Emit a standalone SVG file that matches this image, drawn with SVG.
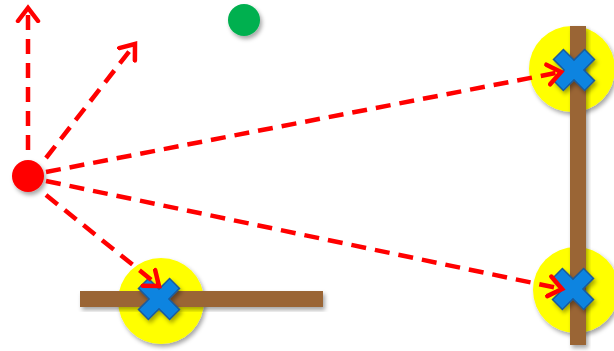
<svg xmlns="http://www.w3.org/2000/svg" width="614" height="351" viewBox="0 0 614 351">
<defs>
<filter id="sh" x="-30%" y="-30%" width="160%" height="160%">
<feDropShadow dx="2" dy="3" stdDeviation="2" flood-color="#000" flood-opacity="0.35"/>
</filter>
<marker id="ah" markerUnits="userSpaceOnUse" markerWidth="30" markerHeight="30" viewBox="-15 -15 30 30" refX="0" refY="0" orient="auto">
<path d="M-13,-10 L0,0 L-13,10" fill="none" stroke="#ff0000" stroke-width="4.5" stroke-linecap="round" stroke-linejoin="miter"/>
</marker>
<path id="x" d="M-22,-7 L-7,-7 L-7,-22 L7,-22 L7,-7 L22,-7 L22,7 L7,7 L7,22 L-7,22 L-7,7 L-22,7 Z" transform="rotate(45)"/>
</defs>
<style>
.yc{fill:#ffff00;filter:url(#sh)}
.bar{fill:#9a6535;filter:url(#sh)}
.xm{fill:#0b84e0;stroke:#1a5a9a;stroke-width:1.5;filter:url(#sh)}
.dl{fill:none;stroke:#ff0000;stroke-width:4.5;stroke-dasharray:15 9;marker-end:url(#ah)}
</style>
<g id="target-bottom">
<circle class="yc" cx="161" cy="301" r="43"/>
<rect class="bar" x="80" y="291" width="243" height="16"/>
<use href="#x" class="xm" transform="translate(159,299)"/>
</g>
<g id="target-top-right">
<circle class="yc" cx="572" cy="69" r="43"/>
</g>
<g id="target-bottom-right">
<circle class="yc" cx="576" cy="290" r="43"/>
</g>
<g id="wall-right">
<rect class="bar" x="570" y="26" width="16" height="319"/>
</g>
<g id="x-top-right"><use href="#x" class="xm" transform="translate(574,70)"/></g>
<g id="x-bottom-right"><use href="#x" class="xm" transform="translate(573,289)"/></g>
<g id="source"><circle cx="28" cy="176" r="16" fill="#ff0000" filter="url(#sh)"/></g>
<g id="green"><circle cx="244" cy="20" r="16" fill="#00b050" filter="url(#sh)"/></g>
<g id="connectors">
<path class="dl" d="M28,150 L28,8"/>
<path class="dl" d="M46,158 L135,44"/>
<path class="dl" d="M46,172 L561,72"/>
<path class="dl" d="M46,181 L562,289"/>
<path class="dl" d="M46,195 L159,286"/>
</g>
</svg>
